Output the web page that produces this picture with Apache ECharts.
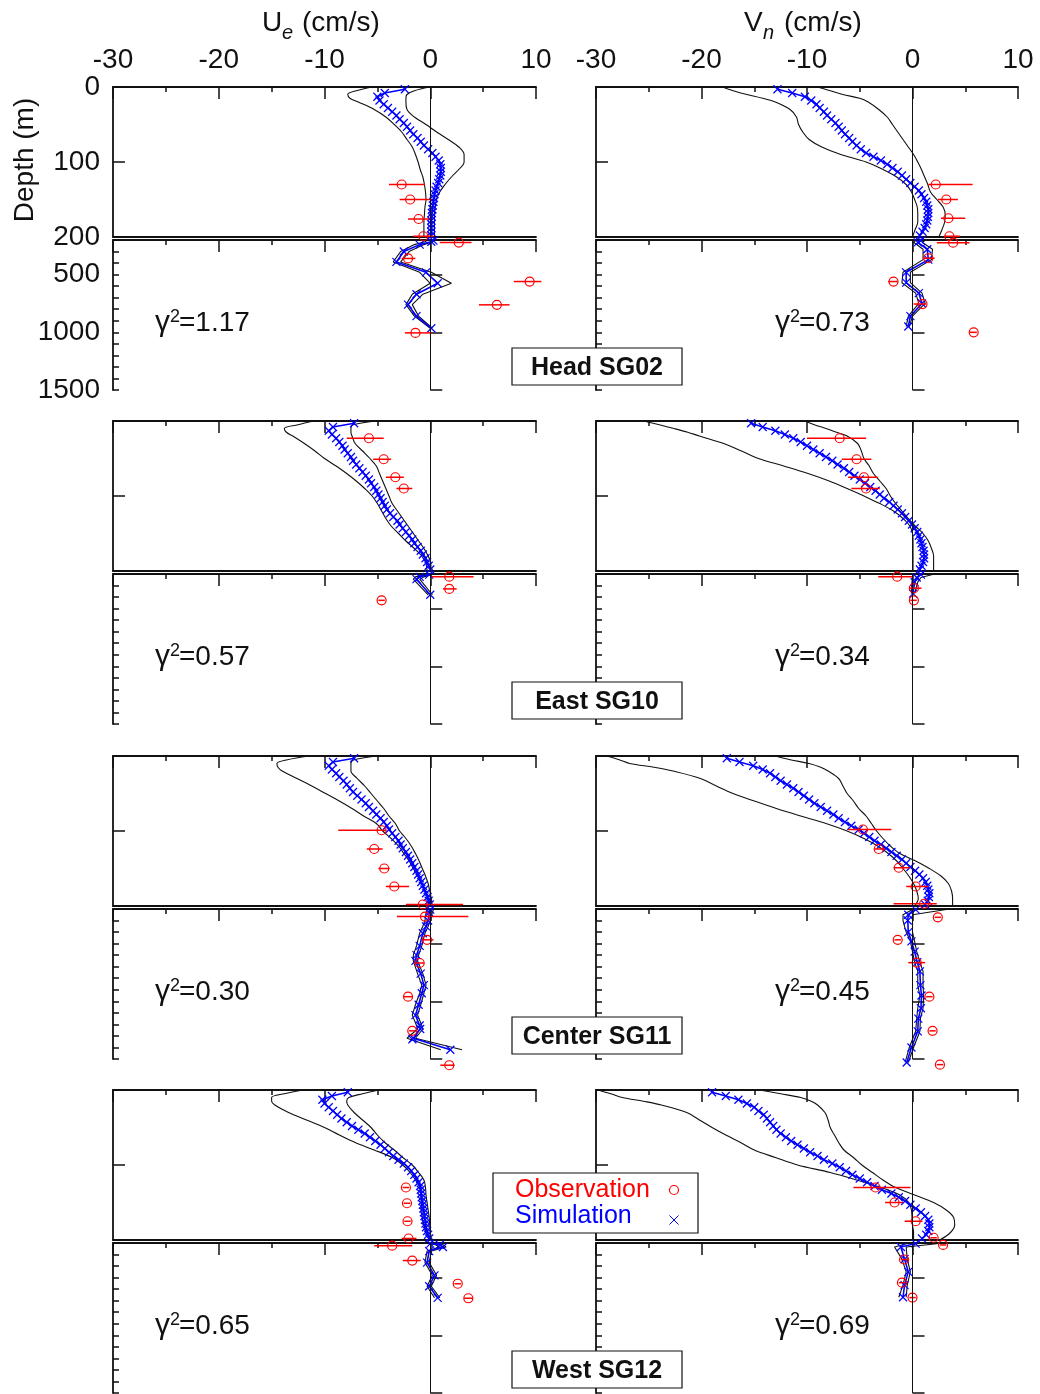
<!DOCTYPE html>
<html>
<head>
<meta charset="utf-8">
<script src="https://cdn.jsdelivr.net/npm/echarts@6/dist/echarts.min.js"></script>
<style>
  html, body { margin: 0; padding: 0; background: #fff; }
  #chart { width: 1040px; height: 1394px; }
</style>
</head>
<body>
<div id="chart"></div>
<script>
// ---------------- data ----------------
// model levels (m) of the simulated profile in the 0-200 m layer
const depthSim = [3, 8, 13, 18, 23, 28, 33, 38, 43, 48, 53, 58, 63, 68, 73, 78, 83, 88, 93, 98,
  103, 108, 113, 118, 123, 128, 133, 138, 143, 148, 153, 158, 163, 168, 173, 178, 183, 188, 193, 198];
// depths (m) at which the ensemble envelope is given in the 0-200 m layer
const depthEnv = [0, 5, 10, 15, 20, 30, 40, 50, 60, 70, 80, 90, 100, 110, 120, 130, 140, 150, 160, 170, 180, 190, 200];

const xTickValues = [-30, -20, -10, 0, 10];
const shallowTicks = [0, 100, 200];
const deepMajorTicks = [500, 1000, 1500];

const stations = ['Head SG02', 'East SG10', 'Center SG11', 'West SG12'];
const gammaU = ['1.17', '0.57', '0.30', '0.65'];
const gammaV = ['0.73', '0.34', '0.45', '0.69'];

// observations: [depth m, value cm/s, low, high]

// ---- Head SG02, Ue ----
const headU_sim = [-2.4, -4.3, -5.0, -4.8, -4.4, -4.0, -3.6, -3.2, -2.9, -2.5, -2.2, -1.9, -1.6, -1.2, -0.9, -0.6, -0.2, 0.2, 0.5, 0.8,
  0.95, 1.0, 1.0, 0.95, 0.85, 0.75, 0.6, 0.5, 0.4, 0.35, 0.3, 0.25, 0.2, 0.15, 0.15, 0.1, 0.1, 0.1, 0.1, 0.1];
const headU_lo = [-5.5, -7.0, -7.8, -7.6, -6.8, -5.3, -4.2, -3.4, -2.7, -2.2, -1.7, -1.4, -1.15, -0.95, -0.7, -0.55, -0.45, -0.4, -0.5, -0.55, -0.6, -0.6, -0.6];
const headU_hi = [-0.1, -1.5, -2.2, -2.3, -2.3, -2.2, -1.5, -0.4, 0.6, 1.7, 2.7, 3.2, 3.2, 2.7, 2.0, 1.4, 0.9, 0.6, 0.45, 0.4, 0.4, 0.4, 0.4];
const headU_deepDepth = [205, 215, 240, 300, 390, 480, 575, 670, 760, 860, 965];
const headU_deepSim = [0.3, 0.1, -1.0, -2.5, -3.2, -0.4, 0.7, -1.3, -2.1, -1.3, 0.1];
const headU_deepLo = [-0.3, -0.5, -1.5, -2.8, -3.5, -1.0, 0.0, -1.7, -2.3, -1.5, 0.0];
const headU_deepHi = [0.5, 0.4, -0.6, -2.0, -2.8, 0.1, 2.0, -0.7, -1.7, -1.1, 0.2];
const headU_obs = [[130, -2.7, -3.9, -0.5], [150, -1.9, -2.9, 0.1], [176, -1.1, -2.1, -0.1], [199, -0.65, -1.6, 0.3],
  [222, 2.7, 0.9, 3.9], [360, -2.1, -2.7, -1.4], [560, 9.4, 7.9, 10.5], [762, 6.3, 4.6, 7.5], [1005, -1.4, -2.4, 0.2]];

// ---- Head SG02, Vn ----
const headV_sim = [-12.8, -11.4, -10.2, -9.6, -9.1, -8.8, -8.4, -8.1, -7.7, -7.3, -7.0, -6.7, -6.4, -6.0, -5.7, -5.3, -4.9, -4.4, -3.7, -3.0,
  -2.4, -1.9, -1.4, -1.0, -0.6, -0.2, 0.2, 0.6, 0.85, 1.1, 1.3, 1.4, 1.5, 1.5, 1.45, 1.4, 1.3, 1.15, 0.95, 0.7];
const headV_lo = [-18.0, -17.0, -15.7, -14.2, -13.0, -11.6, -11.0, -10.8, -10.4, -9.8, -8.6, -6.8, -4.4, -2.8, -1.5, -0.6, -0.1, 0.2, 0.45, 0.5, 0.5, 0.25, 0.0];
const headV_hi = [-9.0, -7.8, -6.6, -5.0, -4.2, -3.2, -2.4, -1.9, -1.4, -0.9, -0.4, 0.1, 0.5, 0.85, 1.15, 1.45, 1.7, 2.3, 2.9, 3.1, 3.05, 2.8, 2.5];
const headV_deepDepth = [205, 220, 280, 370, 480, 570, 660, 750, 860, 950];
const headV_deepSim = [0.8, 0.5, 1.4, 1.5, -0.6, -0.6, 0.6, 0.9, -0.2, -0.4];
const headV_deepLo = [0.3, 0.1, 1.0, 1.0, -0.9, -1.0, 0.3, 0.6, -0.4, -0.6];
const headV_deepHi = [1.2, 0.9, 1.9, 1.8, -0.2, -0.2, 0.9, 1.2, 0.0, -0.3];
const headV_obs = [[130, 2.2, 1.5, 5.7], [150, 3.2, 2.4, 4.3], [175, 3.4, 2.7, 5.0], [199, 3.5, 3.0, 4.5],
  [223, 3.85, 2.3, 5.4], [358, 1.5, 1.0, 2.1], [560, -1.8, -2.3, -1.4], [755, 0.95, 0.1, 1.3], [1000, 5.8, 5.4, 6.1]];

// ---- East SG10, Ue ----
const eastU_sim = [-7.2, -9.2, -9.6, -9.3, -8.9, -8.6, -8.3, -8.1, -7.8, -7.5, -7.3, -7.0, -6.7, -6.4, -6.1, -5.8, -5.6, -5.3, -5.1, -4.9,
  -4.7, -4.5, -4.3, -4.1, -3.8, -3.5, -3.1, -2.9, -2.6, -2.3, -2.0, -1.7, -1.5, -1.2, -0.9, -0.7, -0.45, -0.3, -0.15, 0.0];
const eastU_lo = [-11.0, -12.5, -13.8, -13.6, -13.0, -11.9, -10.9, -10.0, -8.9, -7.9, -7.0, -6.2, -5.5, -5.0, -4.6, -4.2, -3.7, -3.0, -2.3, -1.5, -0.8, -0.4, -0.3];
const eastU_hi = [-5.0, -7.3, -7.5, -7.5, -7.4, -7.1, -6.4, -5.7, -5.1, -4.8, -4.5, -4.2, -3.9, -3.6, -3.1, -2.6, -2.1, -1.6, -1.1, -0.6, -0.2, 0.05, 0.05];
const eastU_deepDepth = [205, 225, 245, 380];
const eastU_deepSim = [-0.1, -1.0, -1.3, 0.0];
const eastU_deepLo = [-0.4, -1.4, -1.6, -0.2];
const eastU_deepHi = [0.2, -0.6, -1.0, 0.2];
const eastU_obs = [[23, -5.8, -7.9, -4.4], [51, -4.4, -5.4, -3.7], [75, -3.3, -4.2, -2.5], [90, -2.5, -3.2, -1.7],
  [223, 1.8, 0.15, 4.1], [329, 1.8, 1.2, 2.5], [428, -4.6, -4.9, -4.3]];

// ---- East SG10, Vn ----
const eastV_sim = [-15.3, -14.2, -13.0, -12.1, -11.3, -10.6, -10.0, -9.4, -8.8, -8.2, -7.6, -7.1, -6.5, -6.0, -5.5, -5.0, -4.5, -4.0, -3.5, -3.1,
  -2.7, -2.2, -1.8, -1.4, -1.0, -0.7, -0.35, -0.05, 0.2, 0.45, 0.6, 0.75, 0.85, 0.95, 1.05, 1.1, 1.1, 1.0, 0.85, 0.7];
const eastV_lo = [-25.5, -24.0, -22.6, -21.3, -20.2, -17.9, -16.2, -14.6, -12.2, -9.9, -7.9, -6.2, -4.6, -3.1, -1.8, -0.9, -0.25, 0.0, 0.05, 0.05, 0.05, 0.05, 0.05];
const eastV_hi = [-10.2, -9.3, -8.2, -7.2, -6.2, -5.2, -4.85, -4.6, -4.1, -3.7, -3.1, -2.5, -2.1, -1.6, -1.0, -0.4, 0.25, 1.0, 1.5, 1.8, 2.0, 2.0, 2.0];
const eastV_deepDepth = [205, 230, 270, 370];
const eastV_deepSim = [0.8, 0.4, 0.2, 0.05];
const eastV_deepLo = [0.0, 0.0, -0.05, -0.1];
const eastV_deepHi = [1.9, 0.8, 0.5, 0.2];
const eastV_obs = [[23, -6.9, -10.0, -4.4], [51, -5.3, -6.7, -3.9], [75, -4.6, -6.1, -3.3], [90, -4.4, -5.8, -3.1],
  [223, -1.45, -3.25, 0.0], [323, 0.13, -0.25, 0.85], [428, 0.13, -0.2, 0.4]];

// ---- Center SG11, Ue ----
const centerU_sim = [-7.2, -9.2, -9.6, -9.3, -8.9, -8.6, -8.2, -7.9, -7.6, -7.3, -6.9, -6.5, -6.1, -5.8, -5.4, -5.1, -4.7, -4.4, -4.1, -3.9,
  -3.6, -3.3, -3.0, -2.8, -2.6, -2.3, -2.1, -1.9, -1.7, -1.5, -1.3, -1.15, -1.0, -0.85, -0.7, -0.55, -0.4, -0.25, -0.15, -0.05];
const centerU_lo = [-11.5, -13.5, -14.5, -14.4, -14.0, -12.6, -11.2, -9.9, -8.6, -7.4, -6.3, -5.1, -4.5, -3.7, -3.0, -2.5, -2.0, -1.6, -1.2, -0.8, -0.5, -0.25, -0.1];
const centerU_hi = [-4.9, -7.2, -7.5, -7.5, -7.5, -6.9, -6.2, -5.6, -5.0, -4.4, -3.9, -3.3, -2.9, -2.3, -1.8, -1.4, -1.05, -0.75, -0.45, -0.2, -0.05, 0.1, 0.15];
const centerU_deepDepth = [205, 230, 300, 350, 410, 520, 600, 650, 760, 860, 930, 1030, 1120, 1210, 1240, 1320, 1330, 1420];
const centerU_deepSim = [0.0, -0.1, -0.2, -0.4, -0.7, -1.0, -1.3, -1.4, -0.9, -0.6, -0.8, -1.1, -1.4, -1.0, -0.95, -1.6, -1.7, 1.9];
const centerU_deepLo = [-0.3, -0.4, -0.5, -0.7, -1.0, -1.3, -1.6, -1.6, -1.2, -0.8, -1.0, -1.4, -1.7, -1.3, -1.2, -2.2, -2.2, 1.0];
const centerU_deepHi = [0.3, 0.2, 0.0, -0.2, -0.5, -0.8, -1.1, -1.2, -0.7, -0.4, -0.6, -0.9, -1.2, -0.8, -0.7, -1.4, -1.5, 3.0];
const centerU_obs = [[99, -4.6, -8.7, -4.2], [124, -5.3, -6.0, -4.5], [150, -4.35, -4.9, -3.85], [174, -3.4, -4.2, -2.0], [198, -0.7, -2.3, 3.1],
  [266, -0.5, -3.15, 3.6], [467, -0.3, -0.8, 0.3], [668, -1.0, -1.4, -0.6], [960, -2.1, -2.5, -1.7], [1256, -1.7, -2.0, -1.4], [1554, 1.8, 0.95, 2.3]];

// ---- Center SG11, Vn ----
const centerV_sim = [-17.6, -16.4, -15.1, -14.2, -13.5, -13.0, -12.5, -11.9, -11.3, -10.8, -10.3, -9.8, -9.3, -8.7, -8.1, -7.5, -7.0, -6.4, -5.8, -5.1,
  -4.6, -4.1, -3.6, -3.0, -2.5, -2.0, -1.5, -1.0, -0.6, -0.2, 0.25, 0.65, 1.0, 1.25, 1.4, 1.5, 1.6, 1.55, 1.45, 1.2];
const centerV_lo = [-29.0, -27.8, -26.8, -24.5, -22.7, -20.1, -18.6, -17.0, -15.0, -12.9, -10.6, -8.2, -6.2, -4.6, -3.3, -2.3, -1.5, -0.9, -0.35, 0.1, 0.4, 0.55, 0.2];
const centerV_hi = [-13.0, -11.6, -9.8, -8.7, -8.0, -7.0, -6.6, -6.2, -5.6, -5.1, -4.4, -3.9, -3.4, -2.8, -2.1, -1.2, 0.3, 1.6, 2.7, 3.4, 3.7, 3.8, 3.8];
const centerV_deepDepth = [205, 250, 300, 400, 480, 570, 660, 740, 860, 950, 1060, 1150, 1260, 1400, 1530];
const centerV_deepSim = [0.3, -0.4, -0.45, -0.4, -0.1, 0.2, 0.45, 0.7, 0.75, 0.85, 0.8, 0.55, 0.5, -0.1, -0.55];
const centerV_deepLo = [0.0, -0.9, -0.9, -0.6, -0.2, 0.0, 0.2, 0.5, 0.5, 0.7, 0.5, 0.4, 0.3, -0.3, -0.7];
const centerV_deepHi = [3.2, 0.0, 0.0, 0.0, 0.2, 0.4, 0.7, 1.0, 1.0, 1.05, 1.0, 0.75, 0.7, 0.1, -0.4];
const centerV_obs = [[98, -4.7, -6.1, -2.0], [124, -3.2, -3.6, -2.6], [149, -1.3, -1.8, -0.25], [174, 0.3, -0.6, 1.5], [197, 1.1, -1.8, 2.3],
  [272, 2.4, 2.1, 2.7], [467, -1.4, -1.7, -1.1], [665, 0.4, -0.4, 1.2], [960, 1.6, 1.3, 1.9], [1256, 1.9, 1.6, 2.2], [1549, 2.6, 2.3, 2.9]];

// ---- West SG12, Ue ----
const westU_sim = [-7.8, -9.3, -10.2, -10.0, -9.6, -9.2, -8.8, -8.4, -7.9, -7.4, -6.8, -6.2, -5.7, -5.2, -4.7, -4.3, -3.9, -3.5, -3.0, -2.5,
  -2.1, -1.8, -1.5, -1.3, -1.1, -0.95, -0.9, -0.85, -0.8, -0.75, -0.7, -0.65, -0.6, -0.55, -0.5, -0.45, -0.4, -0.3, -0.2, -0.1];
const westU_lo = [-12.0, -13.8, -15.0, -15.0, -14.7, -13.4, -11.7, -10.0, -8.6, -7.1, -5.3, -3.6, -2.6, -1.9, -1.4, -1.0, -0.9, -0.85, -0.8, -0.75, -0.6, -0.4, -0.1];
const westU_hi = [-4.8, -6.4, -7.7, -7.9, -7.8, -7.2, -6.4, -5.6, -5.0, -4.3, -3.4, -2.6, -1.7, -1.1, -0.6, -0.45, -0.4, -0.3, -0.2, -0.1, -0.05, 0.0, 0.0];
const westU_deepDepth = [205, 215, 235, 270, 370, 480, 575, 675];
const westU_deepSim = [0.0, 0.9, 1.2, -0.1, -0.3, 0.4, -0.1, 0.7];
const westU_deepLo = [-0.2, 0.5, 0.9, -0.3, -0.5, 0.2, -0.3, 0.4];
const westU_deepHi = [0.2, 1.2, 1.5, 0.1, -0.1, 0.6, 0.1, 0.9];
const westU_obs = [[130, -2.3, -2.6, -2.0], [151, -2.2, -2.5, -1.9], [175, -2.15, -2.45, -1.85], [198, -2.05, -2.7, -1.3],
  [223, -3.6, -5.3, -1.7], [352, -1.7, -2.6, -0.9], [553, 2.6, 2.3, 2.9], [679, 3.6, 3.2, 4.0]];

// ---- West SG12, Vn ----
const westV_sim = [-19.0, -17.7, -16.5, -15.7, -15.0, -14.6, -14.1, -13.8, -13.5, -13.2, -12.9, -12.5, -12.0, -11.5, -10.9, -10.3, -9.7, -9.0, -8.4, -7.6,
  -6.9, -6.3, -5.7, -5.0, -4.3, -3.6, -2.9, -2.0, -1.3, -0.7, -0.2, 0.3, 0.8, 1.2, 1.5, 1.6, 1.6, 1.5, 1.3, 0.9];
const westV_lo = [-29.8, -28.6, -27.5, -25.5, -23.8, -21.4, -20.2, -19.0, -17.7, -16.3, -15.0, -13.0, -10.9, -7.8, -5.3, -3.0, -1.2, -0.35, -0.1, -0.05, 0.0, 0.1, 0.1];
const westV_hi = [-14.5, -12.5, -10.6, -9.6, -9.0, -8.3, -8.0, -7.8, -7.4, -7.0, -6.5, -5.6, -4.8, -3.8, -2.8, -1.6, 0.2, 2.0, 3.2, 3.9, 4.0, 3.6, 2.6];
const westV_deepDepth = [205, 235, 340, 450, 565, 670];
const westV_deepSim = [0.3, -1.1, -0.75, -0.4, -0.75, -0.9];
const westV_deepLo = [-0.5, -1.7, -1.0, -0.6, -0.9, -1.3];
const westV_deepHi = [2.5, -0.6, -0.5, -0.2, -0.5, -0.6];
const westV_obs = [[130, -3.5, -5.6, -0.2], [150, -1.7, -2.6, -0.9], [175, 0.3, -0.75, 0.95], [197, 2.0, 1.7, 2.3],
  [217, 2.9, 2.6, 3.2], [343, -0.8, -1.1, -0.4], [544, -1.0, -1.3, -0.7], [673, 0.0, -0.3, 0.3]];

// ---------------- layout & style ----------------
const FONT = '"Liberation Sans", Arial, Helvetica, sans-serif';
const RED = '#ff0000';
const BLUE = '#0000ff';
const INK = '#111111';
const COL_LEFT = [113, 596];
const COL_WIDTH = [423, 422];
const ROW_TOP = [87, 421, 756, 1090];
const BOX_H = 150;
const GAP = 3;
const CROSS = 'path://M0,0L10,10M10,0L0,10';

const panels = [
  [
    { sim: headU_sim, lo: headU_lo, hi: headU_hi, dd: headU_deepDepth, dSim: headU_deepSim, dLo: headU_deepLo, dHi: headU_deepHi, obs: headU_obs },
    { sim: headV_sim, lo: headV_lo, hi: headV_hi, dd: headV_deepDepth, dSim: headV_deepSim, dLo: headV_deepLo, dHi: headV_deepHi, obs: headV_obs }
  ],
  [
    { sim: eastU_sim, lo: eastU_lo, hi: eastU_hi, dd: eastU_deepDepth, dSim: eastU_deepSim, dLo: eastU_deepLo, dHi: eastU_deepHi, obs: eastU_obs },
    { sim: eastV_sim, lo: eastV_lo, hi: eastV_hi, dd: eastV_deepDepth, dSim: eastV_deepSim, dLo: eastV_deepLo, dHi: eastV_deepHi, obs: eastV_obs }
  ],
  [
    { sim: centerU_sim, lo: centerU_lo, hi: centerU_hi, dd: centerU_deepDepth, dSim: centerU_deepSim, dLo: centerU_deepLo, dHi: centerU_deepHi, obs: centerU_obs },
    { sim: centerV_sim, lo: centerV_lo, hi: centerV_hi, dd: centerV_deepDepth, dSim: centerV_deepSim, dLo: centerV_deepLo, dHi: centerV_deepHi, obs: centerV_obs }
  ],
  [
    { sim: westU_sim, lo: westU_lo, hi: westU_hi, dd: westU_deepDepth, dSim: westU_deepSim, dLo: westU_deepLo, dHi: westU_deepHi, obs: westU_obs },
    { sim: westV_sim, lo: westV_lo, hi: westV_hi, dd: westV_deepDepth, dSim: westV_deepSim, dLo: westV_deepLo, dHi: westV_deepHi, obs: westV_obs }
  ]
];

function pairs(vals, depths) { return depths.map((d, i) => [vals[i], d]); }

const axisLineStyle = { color: INK, width: 1.8 };
const tickLineStyle = { color: INK, width: 1.5 };
const plainNumber = v => String(v);
const labelStyle = { fontSize: 28, fontFamily: FONT, color: INK, margin: 13, formatter: plainNumber };

function xTopAxis(gridIndex, showLabel) {
  return {
    type: 'value', gridIndex, position: 'top', min: xTickValues[0], max: xTickValues[xTickValues.length - 1], interval: 10,
    axisLine: { show: true, onZero: false, lineStyle: axisLineStyle },
    axisTick: { show: true, inside: true, length: 12, lineStyle: tickLineStyle },
    minorTick: { show: true, splitNumber: 2, length: 5, lineStyle: tickLineStyle },
    axisLabel: Object.assign({ show: showLabel }, labelStyle),
    splitLine: { show: false }, minorSplitLine: { show: false }
  };
}
function xBottomLine(gridIndex) {
  return {
    type: 'value', gridIndex, position: 'bottom', min: -30, max: 10, interval: 10,
    axisLine: { show: true, onZero: false, lineStyle: axisLineStyle },
    axisTick: { show: false }, axisLabel: { show: false }, splitLine: { show: false }
  };
}
function yShallowAxis(gridIndex, showLabel) {
  return {
    type: 'value', gridIndex, position: 'left', inverse: true,
    min: shallowTicks[0], max: shallowTicks[shallowTicks.length - 1], interval: 100,
    axisLine: { show: true, onZero: false, lineStyle: axisLineStyle },
    axisTick: { show: true, inside: true, length: 12, lineStyle: tickLineStyle },
    axisLabel: Object.assign({ show: showLabel, showMinLabel: true, showMaxLabel: true }, labelStyle),
    splitLine: { show: false }
  };
}
function yDeepAxis(gridIndex) {
  return {
    type: 'value', gridIndex, position: 'left', inverse: true, min: 200, max: 1500, interval: 100,
    axisLine: { show: true, onZero: false, lineStyle: axisLineStyle },
    axisTick: { show: true, inside: true, length: 6, lineStyle: tickLineStyle },
    axisLabel: { show: false }, splitLine: { show: false }
  };
}
function yDeepMajorAxis(gridIndex, showLabel) {
  return {
    type: 'value', gridIndex, position: 'left', offset: 0, inverse: true, min: 200, max: 1500,
    axisLine: { show: false },
    axisTick: { show: true, inside: true, length: 12, lineStyle: tickLineStyle, customValues: deepMajorTicks },
    axisLabel: Object.assign({ show: showLabel, customValues: deepMajorTicks }, labelStyle),
    splitLine: { show: false }
  };
}

function envLine(xi, yi, data, smooth, withZero) {
  const s = {
    type: 'line', xAxisIndex: xi, yAxisIndex: yi, data, smooth: smooth ? 0.35 : false,
    symbol: 'none', lineStyle: { color: INK, width: 1.1 }, silent: true, clip: false, z: 2
  };
  if (withZero) {
    s.markLine = {
      silent: true, symbol: ['none', 'none'], label: { show: false }, animation: false,
      lineStyle: { color: INK, width: 1, type: 'solid' }, data: [{ xAxis: 0 }]
    };
  }
  return s;
}
function simLine(xi, yi, data) {
  return {
    type: 'line', xAxisIndex: xi, yAxisIndex: yi, data,
    symbol: CROSS, symbolSize: 8, showSymbol: true, showAllSymbol: true,
    lineStyle: { color: BLUE, width: 1.6 },
    itemStyle: { color: BLUE, borderColor: BLUE, borderWidth: 1.2 },
    silent: true, clip: false, z: 3
  };
}
function renderObs(params, api) {
  const d = api.value(1);
  const c = api.coord([api.value(0), d]);
  const a = api.coord([api.value(2), d]);
  const b = api.coord([api.value(3), d]);
  return {
    type: 'group',
    children: [
      { type: 'line', shape: { x1: a[0], y1: a[1], x2: b[0], y2: b[1] }, style: { stroke: RED, lineWidth: 1.5 } },
      { type: 'circle', shape: { cx: c[0], cy: c[1], r: 4.5 }, style: { stroke: RED, fill: 'none', lineWidth: 1.2 } }
    ]
  };
}
function obsSeries(xi, yi, rows) {
  return {
    type: 'custom', xAxisIndex: xi, yAxisIndex: yi,
    data: rows.map(o => [o[1], o[0], o[2], o[3]]),
    encode: { x: [0, 2, 3], y: 1 }, renderItem: renderObs, silent: true, clip: false, z: 4
  };
}

const grid = [], xAxis = [], yAxis = [], series = [];

panels.forEach((row, r) => {
  row.forEach((p, c) => {
    const top = ROW_TOP[r];
    const left = COL_LEFT[c];
    const width = COL_WIDTH[c];
    const first = r === 0;
    const labelled = r === 0 && c === 0;

    // 0-200 m
    const gU = grid.length;
    grid.push({ left, top, width, height: BOX_H });
    const xU = xAxis.length;
    xAxis.push(xTopAxis(gU, first));
    xAxis.push(xBottomLine(gU));
    const yU = yAxis.length;
    yAxis.push(yShallowAxis(gU, labelled));

    // 200-1500 m
    const gL = grid.length;
    grid.push({ left, top: top + BOX_H + GAP, width, height: BOX_H });
    const xL = xAxis.length;
    xAxis.push(xTopAxis(gL, false));
    const yL = yAxis.length;
    yAxis.push(yDeepAxis(gL));
    yAxis.push(yDeepMajorAxis(gL, labelled));

    series.push(envLine(xU, yU, pairs(p.lo, depthEnv), true, true));
    series.push(envLine(xU, yU, pairs(p.hi, depthEnv), true, false));
    series.push(simLine(xU, yU, pairs(p.sim, depthSim)));
    series.push(obsSeries(xU, yU, p.obs.filter(o => o[0] <= 200)));

    series.push(envLine(xL, yL, pairs(p.dLo, p.dd), false, true));
    series.push(envLine(xL, yL, pairs(p.dHi, p.dd), false, false));
    series.push(simLine(xL, yL, pairs(p.dSim, p.dd)));
    series.push(obsSeries(xL, yL, p.obs.filter(o => o[0] > 200)));
  });
});

// ---------------- annotations ----------------
function txt(x, y, text, opts) {
  return {
    type: 'text', x, y, z: 101,
    style: Object.assign({ text, fontSize: 28, fontFamily: FONT, fill: INK, verticalAlign: 'middle', align: 'left' }, opts || {})
  };
}

const graphic = [];
// axis titles
graphic.push(txt(262, 23, 'U'));
graphic.push(txt(282, 33, 'e', { fontSize: 20, fontStyle: 'italic' }));
graphic.push(txt(302, 23, '(cm/s)'));
graphic.push(txt(744, 23, 'V'));
graphic.push(txt(763, 33, 'n', { fontSize: 20, fontStyle: 'italic' }));
graphic.push(txt(784, 23, '(cm/s)'));
graphic.push({
  type: 'text', x: 25, y: 160, rotation: Math.PI / 2, z: 101,
  style: { text: 'Depth (m)', fontSize: 28, fontFamily: FONT, fill: INK, align: 'center', verticalAlign: 'middle' }
});

ROW_TOP.forEach((top, r) => {
  const off = top - ROW_TOP[0];
  // goodness of fit
  [[155, gammaU[r]], [775, gammaV[r]]].forEach(([gx, val]) => {
    graphic.push(txt(gx, 323 + off, 'γ', { fontSize: 30 }));
    graphic.push(txt(gx + 15, 317 + off, '2', { fontSize: 18 }));
    graphic.push(txt(gx + 24, 323 + off, '=' + val));
  });
  // station tag
  graphic.push({
    type: 'rect', z: 100, shape: { x: 512, y: 348 + off, width: 170, height: 37 },
    style: { fill: '#fff', stroke: INK, lineWidth: 1.2 }
  });
  graphic.push(txt(597, 368 + off, stations[r], { fontSize: 25, fontWeight: 'bold', align: 'center' }));
});

// legend
graphic.push({
  type: 'rect', z: 100, shape: { x: 493, y: 1173, width: 205, height: 60 },
  style: { fill: '#fff', stroke: INK, lineWidth: 1.2 }
});
graphic.push(txt(515, 1190, 'Observation', { fontSize: 25, fill: RED }));
graphic.push(txt(515, 1216, 'Simulation', { fontSize: 25, fill: BLUE }));
graphic.push({
  type: 'circle', z: 101, shape: { cx: 674, cy: 1190, r: 4.5 },
  style: { stroke: RED, fill: 'none', lineWidth: 1.2 }
});
graphic.push({ type: 'line', z: 101, shape: { x1: 669.5, y1: 1215.5, x2: 678.5, y2: 1224.5 }, style: { stroke: BLUE, lineWidth: 1 } });
graphic.push({ type: 'line', z: 101, shape: { x1: 678.5, y1: 1215.5, x2: 669.5, y2: 1224.5 }, style: { stroke: BLUE, lineWidth: 1 } });

const chart = echarts.init(document.getElementById('chart'), null, { renderer: 'canvas' });
chart.setOption({
  backgroundColor: '#ffffff',
  animation: false,
  grid, xAxis, yAxis, series, graphic
});
</script>
</body>
</html>
